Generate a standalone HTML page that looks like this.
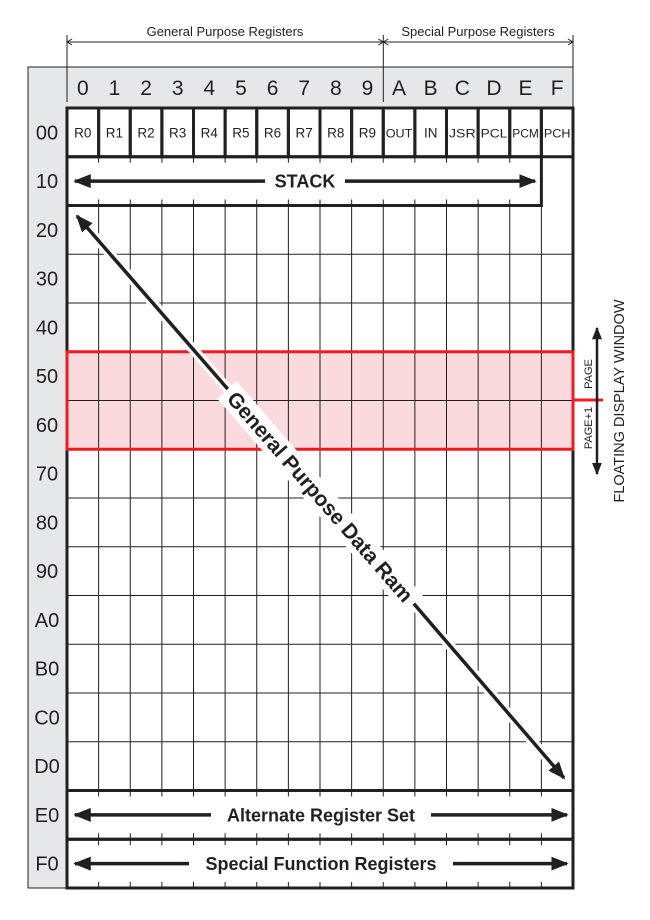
<!DOCTYPE html>
<html><head><meta charset="utf-8"><style>
html,body{margin:0;padding:0;background:#fff;}
svg{display:block;font-family:"Liberation Sans",Arial,sans-serif;}
</style></head><body>
<svg id="s" width="650" height="920" viewBox="0 0 650 920">
<defs>
<marker id="ah" viewBox="0 0 10 10" refX="9" refY="5" markerWidth="5" markerHeight="5" orient="auto-start-reverse" markerUnits="strokeWidth"><path d="M0,1 L10,5 L0,9 z" fill="#231f20"/></marker>
</defs>
<g id="bg"></g>
<g id="grid"></g>
<g id="over"></g>
</svg>
<script>
const colLabels=['0','1','2','3','4','5','6','7','8','9','A','B','C','D','E','F'];
const rowLabels=['00','10','20','30','40','50','60','70','80','90','A0','B0','C0','D0','E0','F0'];
const regNames=['R0','R1','R2','R3','R4','R5','R6','R7','R8','R9','OUT','IN','JSR','PCL','PCM','PCH'];
const windowRows=[5,6];
const X0=67,X1=573,Y0=108,Y1=888;
const CW=(X1-X0)/16,RH=(Y1-Y0)/16;
const cx=i=>X0+i*CW, ry=j=>Y0+j*RH;
const NS='http://www.w3.org/2000/svg';
function mk(parent,tag,attrs,text){const e=document.createElementNS(NS,tag);for(const k in attrs)e.setAttribute(k,attrs[k]);if(text!==undefined)e.textContent=text;document.getElementById(parent).appendChild(e);return e;}
const K='#231f20';
let e=mk('bg','rect',{x:28,y:67,width:X1-28,height:Y1-67,fill:'#e6e7e8',stroke:K,'stroke-width':1});


e=mk('bg','rect',{x:X0,y:Y0,width:X1-X0,height:Y1-Y0,fill:'#fff'});


e=mk('bg','rect',{x:X0,y:ry(windowRows[0]),width:X1-X0,height:RH*windowRows.length,fill:'#fadadc'});


colLabels.forEach((c,i)=>{const t=mk('bg','text',{x:cx(i)+CW/2,y:95,'font-size':21,'text-anchor':'middle',fill:K},c);

});
rowLabels.forEach((r,j)=>{const t=mk('bg','text',{x:47,y:ry(j)+RH/2+7,'font-size':20,'text-anchor':'middle',fill:K},r);

});
for(let i=1;i<16;i++){const l=mk('grid','line',{x1:cx(i),y1:ry(2),x2:cx(i),y2:ry(14),stroke:K,'stroke-width':1});

}
for(let j=3;j<14;j++){const l=mk('grid','line',{x1:X0,y1:ry(j),x2:X1,y2:ry(j),stroke:K,'stroke-width':1});

}
[1,14,15].forEach(j=>{for(let i=1;i<16;i++){if(j===1&&i===15)continue;
[[ry(j),ry(j)+6],[ry(j+1)-6,ry(j+1)]].forEach(([a,b])=>{const l=mk('grid','line',{x1:cx(i),y1:a,x2:cx(i),y2:b,stroke:K,'stroke-width':1});

});}});
e=mk('grid','line',{x1:cx(15),y1:ry(1),x2:cx(15),y2:ry(2),stroke:K,'stroke-width':1});
regNames.forEach((r,i)=>{const g=mk('grid','rect',{x:cx(i),y:ry(0),width:CW,height:RH,fill:'none',stroke:K,'stroke-width':3});


const t=mk('grid','text',{x:cx(i)+CW/2,y:ry(0)+RH/2+5,'font-size':r.length>2?11.5:13.5,'text-anchor':'middle',fill:K,'textLength':r.length>2?CW-5:'', 'lengthAdjust':'spacingAndGlyphs'},r);
if(r.length<=2)t.removeAttribute('textLength');

});
e=mk('grid','rect',{x:X0,y:ry(1),width:15*CW,height:RH,fill:'none',stroke:K,'stroke-width':3});


e=mk('grid','rect',{x:X0,y:ry(14),width:X1-X0,height:RH,fill:'none',stroke:K,'stroke-width':3});


e=mk('grid','rect',{x:X0,y:ry(15),width:X1-X0,height:RH,fill:'none',stroke:K,'stroke-width':3});


e=mk('grid','rect',{x:X0,y:Y0,width:X1-X0,height:Y1-Y0,fill:'none',stroke:K,'stroke-width':3});


e=mk('grid','rect',{x:X0,y:ry(windowRows[0]),width:X1-X0,height:RH*windowRows.length,fill:'none',stroke:'#ed1c24','stroke-width':3});


function banner(y,x1,x2,label,w,name){
 const mid=(x1+x2)/2;
 const l1=mk('over','line',{x1:mid-w/2,y1:y,x2:x1,y2:y,stroke:K,'stroke-width':3.5,'marker-end':'url(#ah)'});
 
 
 const l2=mk('over','line',{x1:mid+w/2,y1:y,x2:x2,y2:y,stroke:K,'stroke-width':3.5,'marker-end':'url(#ah)'});
 
 
 const t=mk('over','text',{x:mid,y:y+6.5,'font-size':18,'font-weight':'bold','text-anchor':'middle',fill:K},label);
 
 
}
banner(ry(1)+RH/2,75,535,'STACK',80,'stack');
banner(ry(14)+RH/2,75,567,'Alternate Register Set',220,'alternate');
banner(ry(15)+RH/2,75,567,'Special Function Registers',264,'special-function');
e=mk('over','line',{x1:300,y1:472,x2:77,y2:216,stroke:'#fff','stroke-width':10});
e=mk('over','line',{x1:340,y1:518,x2:564,y2:778,stroke:'#fff','stroke-width':10});
e=mk('over','line',{x1:300,y1:472,x2:77,y2:216,stroke:K,'stroke-width':3.5,'marker-end':'url(#ah)'});


e=mk('over','line',{x1:340,y1:518,x2:564,y2:778,stroke:K,'stroke-width':3.5,'marker-end':'url(#ah)'});


const g=mk('over','g',{transform:'translate(320,497) rotate(49)'});


let r=document.createElementNS(NS,'rect');r.setAttribute('x',-142);r.setAttribute('y',-13);r.setAttribute('width',284);r.setAttribute('height',26);r.setAttribute('fill','#fff');g.appendChild(r);
let t=document.createElementNS(NS,'text');t.setAttribute('x',0);t.setAttribute('y',7);t.setAttribute('font-size',21);t.setAttribute('font-weight','bold');t.setAttribute('text-anchor','middle');t.setAttribute('fill',K);t.textContent='General Purpose Data Ram';g.appendChild(t);
[[67,35,102],[383.3,35,102],[573,35,67]].forEach(([x,a,b])=>{const l=mk('over','line',{x1:x,y1:a,x2:x,y2:b,stroke:K,'stroke-width':1});

});
[[225,67,383.3],[478,383.3,573]].forEach(([m,a,b])=>{
 const p=mk('over','path',{d:`M${a+5},${39} L${a},${42} L${a+5},${45} M${a},42 L${b},42 M${b-5},39 L${b},42 L${b-5},45`,stroke:K,'stroke-width':1,fill:'none'});
 
 });
e=mk('over','text',{x:225,y:36,'font-size':13,'text-anchor':'middle',fill:K},'General Purpose Registers');


e=mk('over','text',{x:478,y:36,'font-size':13,'text-anchor':'middle',fill:K},'Special Purpose Registers');


e=mk('over','line',{x1:X1,y1:400,x2:603,y2:400,stroke:'#ed1c24','stroke-width':3});


e=mk('over','line',{x1:597,y1:400,x2:597,y2:328,stroke:K,'stroke-width':2.5,'marker-end':'url(#ah)'});


e=mk('over','line',{x1:597,y1:400,x2:597,y2:474,stroke:K,'stroke-width':2.5,'marker-end':'url(#ah)'});


e=mk('over','text',{x:0,y:0,'font-size':11,'text-anchor':'middle',fill:K,transform:'translate(592,374) rotate(-90)'},'PAGE');


e=mk('over','text',{x:0,y:0,'font-size':11,'text-anchor':'middle',fill:K,transform:'translate(592,428) rotate(-90)'},'PAGE+1');


e=mk('over','text',{x:0,y:0,'font-size':14.5,'text-anchor':'middle',fill:K,transform:'translate(624,401) rotate(-90)'},'FLOATING DISPLAY WINDOW');


</script>
</body></html>
